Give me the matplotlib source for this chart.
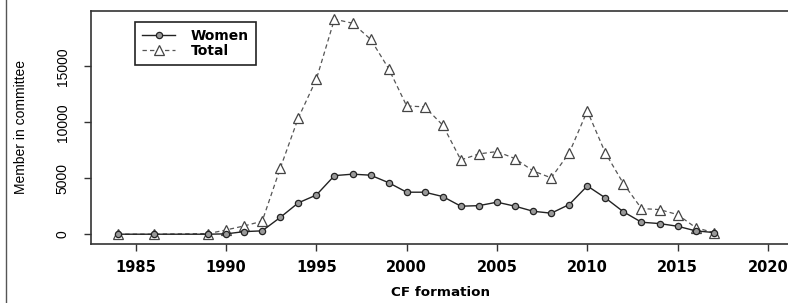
import matplotlib.pyplot as plt
from matplotlib.lines import Line2D

years = [1984, 1986, 1989, 1990, 1991, 1992, 1993, 1994, 1995, 1996, 1997, 1998,
         1999, 2000, 2001, 2002, 2003, 2004, 2005, 2006, 2007, 2008, 2009, 2010,
         2011, 2012, 2013, 2014, 2015, 2016, 2017]
women = [0, 0, 0, 30, 230, 300, 1500, 2800, 3500, 5230, 5360, 5270,
         4600, 3750, 3750, 3360, 2500, 2550, 2860, 2500, 2050, 1875, 2650, 4310,
         3240, 2000, 1070, 950, 710, 300, 150]
total = [0, 0, 50, 380, 740, 1160, 5890, 10380, 13840, 19200, 18840, 17410,
         14790, 11450, 11370, 9730, 6630, 7170, 7380, 6750, 5650, 5030, 7260, 11010,
         7260, 4520, 2290, 2200, 1750, 590, 140]
x_ticks = [1985, 1990, 1995, 2000, 2005, 2010, 2015, 2020]
y_ticks = [0, 5000, 10000, 15000]

narrow = ['Liberation Sans Narrow', 'Liberation Sans', 'DejaVu Sans']
wide = ['DejaVu Sans']

fig = plt.figure(figsize=(7.88, 3.03), dpi=100)
ax = fig.add_axes([0.115, 0.196, 0.887, 0.768])

ax.plot(years, total, linestyle=(0, (3.5, 2.5)), color='#555555', linewidth=0.9,
        marker='^', markersize=6.5, markerfacecolor='white',
        markeredgecolor='#444444', markeredgewidth=0.9, label='Total', zorder=2)
ax.plot(years, women, linestyle='-', color='#222222', linewidth=1.0,
        marker='o', markersize=4.5, markerfacecolor='#999999',
        markeredgecolor='#222222', markeredgewidth=0.9, label='Women', zorder=3)

ax.set_xlim(1982.5, 2021.2)
ax.set_ylim(-840, 19937)
ax.set_xticks(x_ticks)
ax.set_yticks(y_ticks)

for s in ax.spines.values():
    s.set_color('#333333')
    s.set_linewidth(1.2)
ax.spines['right'].set_visible(False)

ax.tick_params(axis='x', direction='out', length=5, width=1, pad=7, color='#333333')
ax.tick_params(axis='y', direction='out', length=5, width=1, pad=10, color='#333333')
for lab in ax.get_xticklabels():
    lab.set_family(wide)
    lab.set_fontweight('bold')
    lab.set_fontsize(10.5)
for lab in ax.get_yticklabels():
    lab.set_family(narrow)
    lab.set_fontsize(10)
    lab.set_rotation(90)
    lab.set_va('center')

ax.set_xlabel('CF formation', family=wide, fontweight='bold', fontsize=9.7, labelpad=8)
ax.set_ylabel('Member in committee', family=narrow, fontsize=10, labelpad=20)

handles, labels = ax.get_legend_handles_labels()
leg = ax.legend(handles[::-1], labels[::-1], loc='upper left',
                bbox_to_anchor=(0.0634, 0.954), borderaxespad=0,
                fancybox=False, edgecolor='#222222', framealpha=1,
                handlelength=2.4, handletextpad=1.1, borderpad=0.5,
                labelspacing=0.1, prop={'family': wide, 'weight': 'bold', 'size': 10})
leg.get_frame().set_linewidth(1.2)

fig.add_artist(Line2D([0.007, 0.007], [0.0, 1.0], transform=fig.transFigure,
                      color='#555555', linewidth=1.0))

plt.savefig('out.png', dpi=100)
